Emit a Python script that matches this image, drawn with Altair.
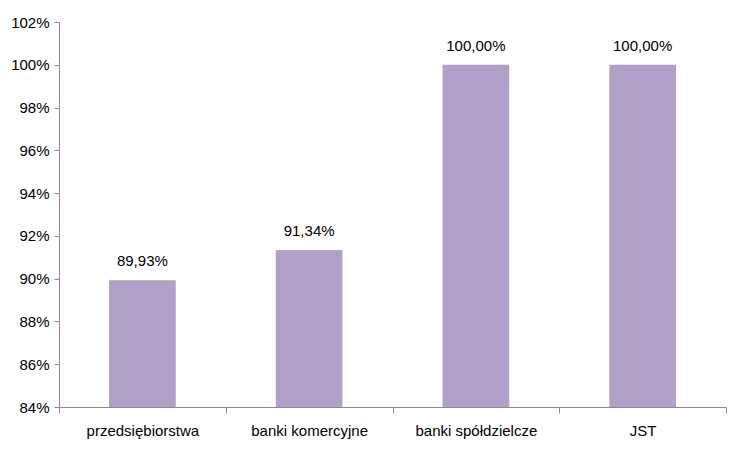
import altair as alt
import pandas as pd

categories = ["przedsiębiorstwa", "banki komercyjne", "banki spółdzielcze", "JST"]
values = [0.8993, 0.9134, 1.0000, 1.0000]
labels = ["89,93%", "91,34%", "100,00%", "100,00%"]

df = pd.DataFrame({"cat": categories, "val": values, "lab": labels})

FONT = "Liberation Sans"
COLOR = "#B1A1C8"
AXIS = "#8C8C8C"

x = alt.X("cat:N", sort=categories, title=None,
          scale=alt.Scale(paddingInner=0, paddingOuter=0),
          axis=alt.Axis(labelAngle=0, labelFontSize=15, labelFont=FONT, labelColor="#000000",
                        tickBand="extent", domainColor=AXIS, tickColor=AXIS, tickSize=6,
                        labelPadding=10, grid=False))
y = alt.Y("val:Q", title=None,
          scale=alt.Scale(domain=[0.84, 1.02], nice=False, zero=False),
          axis=alt.Axis(format=".0%", values=[0.84 + 0.02 * i for i in range(10)],
                        labelFontSize=15, labelFont=FONT, labelColor="#000000",
                        domainColor=AXIS, tickColor=AXIS, tickSize=5, labelPadding=5,
                        grid=False))

bars = alt.Chart(df).mark_bar(color=COLOR, clip=True,
                              width=alt.RelativeBandSize(0.4)).encode(x=x, y=y, y2=alt.datum(0.84))
text = alt.Chart(df).mark_text(dy=-19, fontSize=15, font=FONT, color="#000000").encode(
    x=x, y=y, text="lab:N")

chart = (bars + text).properties(
    width=667, height=385,
    padding={"left": 2, "top": 7, "right": 5, "bottom": 5},
).configure_view(stroke=None)

chart.save("out.html", embed_options={"renderer": "svg", "actions": False})
